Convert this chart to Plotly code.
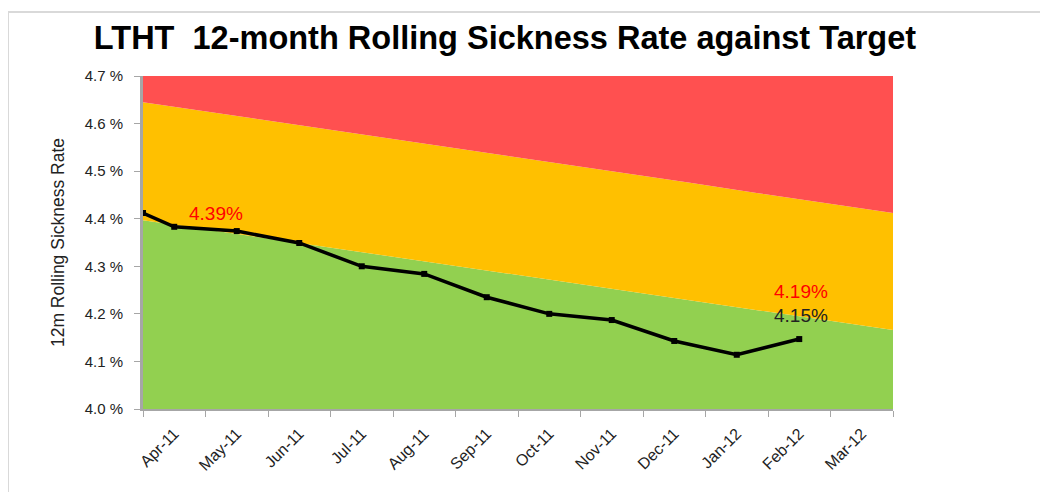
import plotly.graph_objects as go
import numpy as np

months = ["Apr-11", "May-11", "Jun-11", "Jul-11", "Aug-11", "Sep-11",
          "Oct-11", "Nov-11", "Dec-11", "Jan-12", "Feb-12", "Mar-12"]

# Target (top of green band) and amber ceiling, per month (in %)
green_top = [4.397, 4.376, 4.355, 4.334, 4.313, 4.292, 4.271, 4.250, 4.229, 4.208, 4.187, 4.166]
amber_top = [4.645, 4.624, 4.603, 4.581, 4.560, 4.539, 4.518, 4.497, 4.476, 4.454, 4.433, 4.412]
red_top = [4.70, 4.70, 4.70, 4.70, 4.70, 4.70, 4.70, 4.70, 4.70, 4.70, 4.70, 4.70]

# 12-month rolling sickness rate (Apr-11 .. Feb-12), plus the value at the axis start
start_value = 4.412
rate = [4.383, 4.374, 4.349, 4.300, 4.284, 4.235, 4.200, 4.187, 4.143, 4.114, 4.147]

y_ticks = [4.0, 4.1, 4.2, 4.3, 4.4, 4.5, 4.6, 4.7]
y_ticktext = ["4.0 %", "4.1 %", "4.2 %", "4.3 %", "4.4 %", "4.5 %", "4.6 %", "4.7 %"]

n = len(months)
area_x = np.linspace(-0.5, n - 0.5, n)
line_x = [-0.5] + list(range(len(rate)))
line_y = [start_value] + rate

fig = go.Figure()
fig.add_trace(go.Scatter(x=area_x, y=green_top, mode="lines", line=dict(width=0),
                         fill="tozeroy", fillcolor="#92D050", hoverinfo="skip"))
fig.add_trace(go.Scatter(x=area_x, y=amber_top, mode="lines", line=dict(width=0),
                         fill="tonexty", fillcolor="#FFC000", hoverinfo="skip"))
fig.add_trace(go.Scatter(x=area_x, y=red_top, mode="lines", line=dict(width=0),
                         fill="tonexty", fillcolor="#FF5050", hoverinfo="skip"))
fig.add_trace(go.Scatter(x=line_x, y=line_y, mode="lines+markers",
                         line=dict(color="black", width=3.5),
                         marker=dict(symbol="square", size=6, color="black")))

font_family = "Liberation Sans, Arial, sans-serif"

fig.add_annotation(x=0.67, y=4.412, text="4.39%", showarrow=False,
                   font=dict(color="#FF0000", size=19, family=font_family))
fig.add_annotation(x=10.03, y=4.246, text="4.19%", showarrow=False,
                   font=dict(color="#FF0000", size=19, family=font_family))
fig.add_annotation(x=10.03, y=4.197, text="4.15%", showarrow=False,
                   font=dict(color="#222222", size=19, family=font_family))

W, H = 1040, 484  # page body adds an 8px offset
fig.update_layout(
    width=W, height=H,
    margin=dict(l=135, r=155, t=68, b=83),
    paper_bgcolor="white", plot_bgcolor="white",
    showlegend=False,
    font=dict(family=font_family, color="#222222", size=13),
    title=dict(text="<b>LTHT  12-month Rolling Sickness Rate against Target</b>",
               x=(505 - 8) / W, xanchor="center", y=1 - (38 - 8) / H, yanchor="middle",
               font=dict(size=32.5, color="black", family=font_family)),
    xaxis=dict(range=[-0.5, n - 0.5], tickmode="array", tickvals=list(range(n)),
               ticktext=months, tickangle=-45, ticks="", showgrid=False,
               zeroline=False, showline=True, linecolor="#A6A6A6", linewidth=2,
               ticklabelstandoff=7,
               tickfont=dict(size=16, color="#222222"),
               minor=dict(tickmode="array", tickvals=list(np.arange(-0.5, n, 1.0)),
                          ticks="outside", ticklen=6, tickcolor="#A6A6A6", tickwidth=1,
                          showgrid=False)),
    yaxis=dict(range=[4.0, 4.7], tickmode="array", tickvals=y_ticks, ticktext=y_ticktext,
               ticks="outside", ticklen=6, ticklabelstandoff=8,
               tickcolor="#A6A6A6", showgrid=False, zeroline=False, showline=True,
               linecolor="#A6A6A6", linewidth=3,
               tickfont=dict(size=15, color="#222222"),
               title=dict(text="12m Rolling Sickness Rate", standoff=16,
                          font=dict(size=17.5, color="#222222"))),
)

# chart-area frame edges
pw, ph = W - 135 - 155, H - 68 - 83
fig.add_shape(type="line", xref="paper", yref="paper", x0=-135 / pw, x1=(W - 135) / pw,
              y0=1 + 64 / ph, y1=1 + 64 / ph, line=dict(color="#D9D9D9", width=2))
fig.add_shape(type="line", xref="paper", yref="paper", x0=-135 / pw, x1=-135 / pw,
              y0=-83 / ph, y1=1 + 64 / ph, line=dict(color="#D9D9D9", width=2))

fig.write_html("out.html")
